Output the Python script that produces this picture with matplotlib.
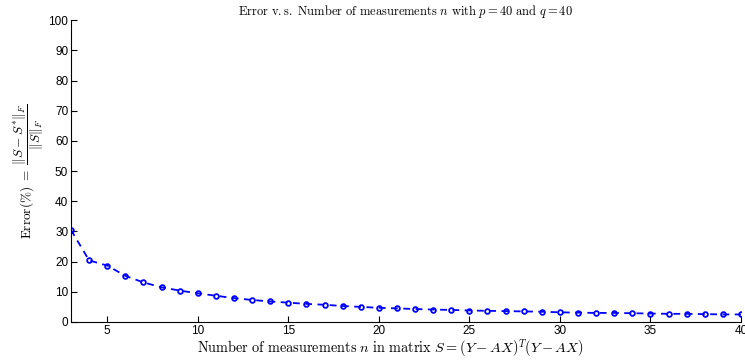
import matplotlib
matplotlib.use('Agg')
import matplotlib.pyplot as plt

# Данные
n_values = list(range(3, 41))
error_values = [30.5, 20.4, 18.7, 15.3, 13.1, 11.5, 10.4, 9.5, 8.7, 7.9,
                7.3, 6.8, 6.4, 6.0, 5.7, 5.3, 5.0, 4.7, 4.5, 4.3,
                4.1, 4.0, 3.8, 3.7, 3.6, 3.5, 3.4, 3.2, 3.1, 3.0,
                3.0, 2.9, 2.8, 2.7, 2.7, 2.6, 2.5, 2.5]
x_ticks = [5, 10, 15, 20, 25, 30, 35, 40]
y_ticks = list(range(0, 101, 10))

plt.rcParams['mathtext.fontset'] = 'cm'
plt.rcParams['font.family'] = 'Liberation Sans'

fig = plt.figure(figsize=(7.45, 3.6), dpi=100)
ax = fig.add_axes([0.0953, 0.1056, 0.8993, 0.8384])

ax.plot(n_values, error_values, '--o', color='blue', linewidth=1.3,
        markersize=3.4, markerfacecolor='none', markeredgewidth=1.3,
        dashes=(3.8, 3))

ax.set_xlim(3, 40)
ax.set_ylim(0, 100)
ax.set_xticks(x_ticks)
ax.set_yticks(y_ticks)
ax.tick_params(direction='in', length=4, labelsize=8.5, pad=2)

# Без рамки сверху и справа, как в MATLAB с box off
ax.spines['top'].set_visible(False)
ax.spines['right'].set_visible(False)

ax.set_title(r'$\mathrm{Error\ v.s.\ Number\ of\ measurements\ }n\mathrm{\ with\ }p=40\mathrm{\ and\ }q=40$',
             fontsize=9, pad=4)
ax.set_xlabel(r'$\mathrm{Number\ of\ measurements\ }n\mathrm{\ in\ matrix\ }S=(Y-AX)^T(Y-AX)$',
              fontsize=10.3)
ax.xaxis.set_label_coords(0.476, -0.05, transform=ax.transAxes)
ax.xaxis.label.set_va('top')
ax.set_ylabel(r'$\mathrm{Error}(\%)\ =\ \dfrac{\Vert S-S^{*}\Vert_F}{\Vert S\Vert_F}$',
              fontsize=9.5, labelpad=2)

fig.savefig('out.png', dpi=100)
